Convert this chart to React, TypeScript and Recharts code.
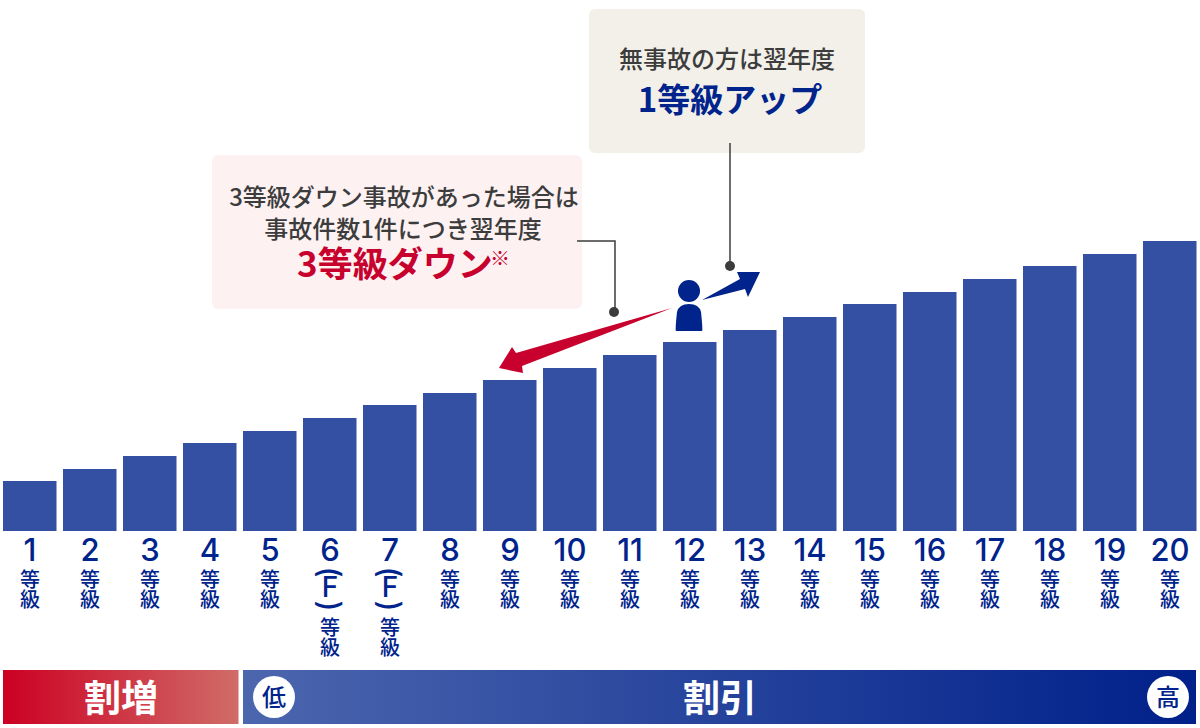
import React from "react";
import { BarChart, Bar, XAxis, YAxis } from "recharts";

const grades = ["1","2","3","4","5","6","7","8","9","10","11","12","13","14","15","16","17","18","19","20"];
const heights = [50,62,75,88,100,113,126,138,151,163,176,189,201,214,227,239,252,265,277,290];
const fGrades = ["6", "7"];
const chartData = grades.map((grade, i) => ({ grade, value: heights[i] }));

const NAVY = "#00238c";
const RED = "#c8002d";
const INK = "#3c3c3c";
const JP = '"Noto Sans CJK JP", sans-serif';

const GradeTick = ({ x, y, payload }: any) => {
  const isF = fGrades.includes(payload.value);
  const top = y - 539;
  const shift = isF ? 48 : 0;
  return (
    <g fill={NAVY} textAnchor="middle" fontFamily={JP}>
      <text x={x} y={top + 561} fontFamily="Inter" fontSize={31} fontWeight={500} fill={NAVY}>{payload.value}</text>
      {isF && (
        <g>
          <text transform={`translate(${x},${top + 572}) rotate(90)`} fontSize={30} fontWeight={500} fontFamily="Inter" fill={NAVY} textAnchor="middle" dominantBaseline="central">(</text>
          <text x={x} y={top + 597} fontSize={28} fontFamily="Inter" fontWeight={500} fill={NAVY}>F</text>
          <text transform={`translate(${x},${top + 606}) rotate(90)`} fontSize={30} fontWeight={500} fontFamily="Inter" fill={NAVY} textAnchor="middle" dominantBaseline="central">)</text>
        </g>
      )}
      <text x={x} y={top + 569 + shift} fontSize={20} fontWeight={500} fill={NAVY} textAnchor="start" style={{ writingMode: "vertical-rl" }}>等級</text>
    </g>
  );
};

const Overlay = () => (
  <svg width={1200} height={728} style={{ position: "absolute", left: 0, top: 0, pointerEvents: "none" }} fontFamily={JP}>
    <defs>
      <linearGradient id="upBand" x1="0" y1="0" x2="1" y2="0">
        <stop offset="0%" stopColor="#cc0022" />
        <stop offset="100%" stopColor="#d06c68" />
      </linearGradient>
      <linearGradient id="downBand" x1="0" y1="0" x2="1" y2="0">
        <stop offset="0%" stopColor="#4c66ae" />
        <stop offset="100%" stopColor="#00208a" />
      </linearGradient>
    </defs>

    <rect x={589} y={9} width={276} height={144} rx={6} fill="#f2f0e9" />
    <text x={727} y={68} textAnchor="middle" fontSize={24} fontWeight={500} fill={INK}>無事故の方は翌年度</text>
    <text x={730} y={112} textAnchor="middle" fontSize={33} fontWeight={700} fill={NAVY}>1等級アップ</text>

    <rect x={212} y={155} width={370} height={154} rx={6} fill="#fdf1f2" />
    <text fontSize={24} fontWeight={500} fill={INK}>
      <tspan x={404} y={206} textAnchor="middle">3等級ダウン事故があった場合は</tspan>
      <tspan x={403} y={238} textAnchor="middle">事故件数1件につき翌年度</tspan>
      <tspan x={297} y={277} fontSize={35} fontWeight={700} fill={RED}>3等級ダウン</tspan>
      <tspan x={490} y={266} fontSize={20} fontWeight={400} fill={RED}>※</tspan>
    </text>

    <path d="M577 241H615V312" fill="none" stroke={INK} strokeWidth={1.5} />
    <circle cx={614} cy={312} r={5} fill={INK} />
    <path d="M730 143V266" fill="none" stroke={INK} strokeWidth={1.5} />
    <circle cx={730} cy={266} r={5} fill={INK} />

    <circle cx={689} cy={291} r={11} fill={NAVY} />
    <path d="M676 331 Q675 331 677 312 Q679 304 689 304 Q699 304 701 312 Q703 331 702 331Z" fill={NAVY} />
    <polygon points="702,300 740,279 737,272 760,272 748,297 745,289" fill={NAVY} />
    <polygon points="672,308 522,366 523,373 499,368 512,347 516,353" fill={RED} />

    <rect x={3} y={670} width={235.5} height={54} fill="url(#upBand)" />
    <text x={121} y={712} textAnchor="middle" fontSize={37} fontWeight={700} fill="#fff">割増</text>
    <rect x={243} y={670} width={953} height={54} fill="url(#downBand)" />
    <text x={720} y={712} textAnchor="middle" fontSize={37} fontWeight={700} fill="#fff">割引</text>
    <circle cx={274} cy={697} r={21} fill="#fff" />
    <text x={274} y={706} textAnchor="middle" fontSize={24} fontWeight={500} fill={NAVY}>低</text>
    <circle cx={1168} cy={697} r={21} fill="#fff" />
    <text x={1168} y={706} textAnchor="middle" fontSize={24} fontWeight={500} fill={NAVY}>高</text>
  </svg>
);

export default function App() {
  return (
    <div style={{ position: "absolute", left: 0, top: 0, width: 1200, height: 728 }}>
      <BarChart width={1200} height={728} data={chartData} margin={{ top: 0, right: 0, left: 0, bottom: 0 }}>
        <XAxis dataKey="grade" height={197} interval={0} axisLine={false} tickLine={false} tick={<GradeTick />} />
        <YAxis hide domain={[0, 531]} />
        <Bar dataKey="value" fill="#3350a3" barSize={53.5} isAnimationActive={false} />
      </BarChart>
      <Overlay />
    </div>
  );
}
